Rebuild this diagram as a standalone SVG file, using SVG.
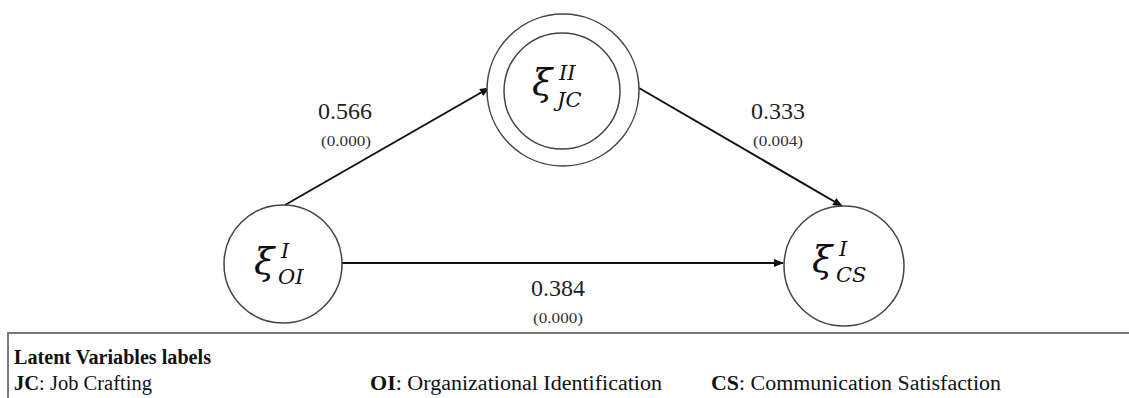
<svg xmlns="http://www.w3.org/2000/svg" width="1129" height="398" viewBox="0 0 1129 398">
<style>
.node{fill:#fff;stroke:#444;stroke-width:1.5}
.edge{stroke:#111;stroke-width:2;fill:none}
.xi{font-family:"DejaVu Serif",serif;font-style:italic;font-size:37px;fill:#111}
.sup{font-size:21px}
.coef{font-family:"Liberation Serif",serif;font-size:24px;fill:#222;text-anchor:middle}
.p{font-family:"Liberation Serif",serif;font-size:15px;fill:#333;text-anchor:middle}
.leg{font-family:"Liberation Serif",serif;font-size:20px;fill:#111}
.b{font-weight:bold}
</style>
<defs>
<marker id="arr" viewBox="0 0 10 10" refX="9" refY="5" markerWidth="5" markerHeight="5" orient="auto" markerUnits="strokeWidth">
<path d="M0,1 L10,5 L0,9 z" fill="#111"/>
</marker>
</defs>
<g id="connectors">
<line class="edge" x1="285" y1="205" x2="489" y2="88" marker-end="url(#arr)"/>
<line class="edge" x1="639" y1="88" x2="842" y2="206" marker-end="url(#arr)"/>
<line class="edge" x1="342" y1="263" x2="783" y2="263" marker-end="url(#arr)"/>
</g>
<g id="node-JC">
<circle class="node" cx="563" cy="90" r="76"/>
<circle class="node" cx="562" cy="91" r="58"/>
<text class="xi" x="532" y="95">ξ<tspan class="sup" x="559" y="80">II</tspan><tspan class="sup" x="557" y="107">JC</tspan></text>
</g>
<g id="node-OI">
<circle class="node" cx="283" cy="264" r="59"/>
<text class="xi" x="254" y="274">ξ<tspan class="sup" x="281" y="258">I</tspan><tspan class="sup" x="278" y="284">OI</tspan></text>
</g>
<g id="node-CS">
<circle class="node" cx="844" cy="266" r="60"/>
<text class="xi" x="812" y="272">ξ<tspan class="sup" x="839" y="256">I</tspan><tspan class="sup" x="836" y="282">CS</tspan></text>
</g>
<g id="labels">
<text class="coef" x="345" y="119">0.566</text>
<text class="p" x="346" y="146" textLength="50" lengthAdjust="spacingAndGlyphs">(0.000)</text>
<text class="coef" x="778" y="119">0.333</text>
<text class="p" x="778" y="146" textLength="50" lengthAdjust="spacingAndGlyphs">(0.004)</text>
<text class="coef" x="558" y="296">0.384</text>
<text class="p" x="558" y="323" textLength="50" lengthAdjust="spacingAndGlyphs">(0.000)</text>
</g>
<g id="legend">
<path d="M8,398 V333 H1129" fill="none" stroke="#777" stroke-width="2"/>
<text class="leg b" x="14" y="364" textLength="197" lengthAdjust="spacingAndGlyphs">Latent Variables labels</text>
<text class="leg" x="14" y="390" textLength="138" lengthAdjust="spacingAndGlyphs"><tspan class="b">JC</tspan>: Job Crafting</text>
<text class="leg" x="370" y="390" textLength="292" lengthAdjust="spacingAndGlyphs"><tspan class="b">OI</tspan>: Organizational Identification</text>
<text class="leg" x="711" y="390" textLength="290" lengthAdjust="spacingAndGlyphs"><tspan class="b">CS</tspan>: Communication Satisfaction</text>
</g>
</svg>
